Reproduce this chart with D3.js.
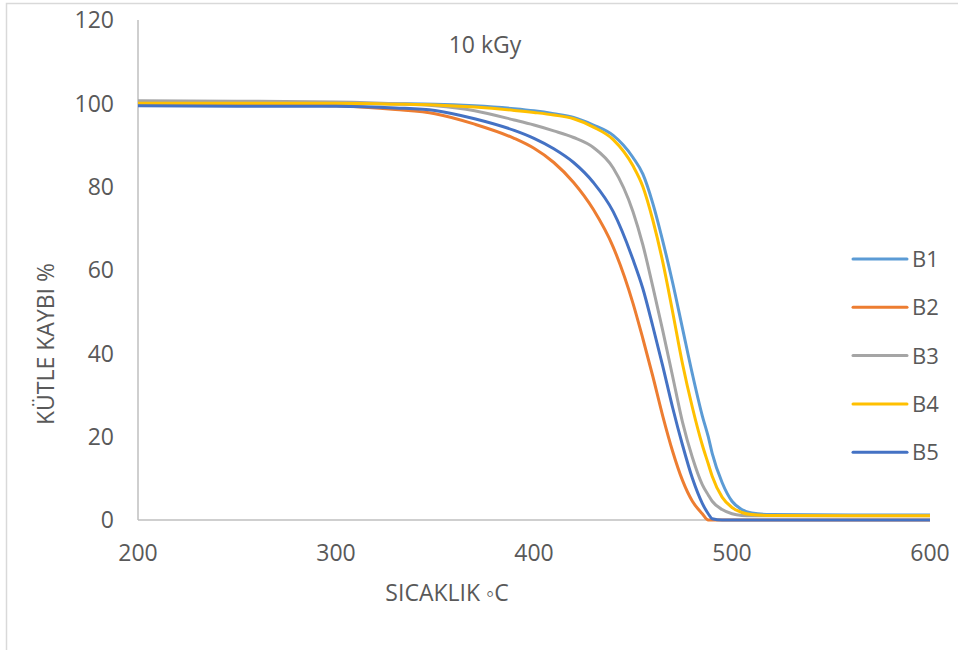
<html>
<head>
<script src="https://d3js.org/d3.v7.min.js"></script>
<style>
  body { margin: 0; background: #fff; }
  text { font-family: "Open Sans", "Liberation Sans", sans-serif; fill: #595959; }
</style>
</head>
<body>
<svg id="chart" width="958" height="650"></svg>
<script>
// temperatures (°C) shared by all series
const temps = [200, 250, 300, 330, 350, 370, 390, 400, 410, 420, 430, 440, 450, 455, 460, 465, 470, 475, 480, 485, 488, 490, 495, 500, 505, 510, 520, 560, 600];

// mass values (%)
const b1 = [100, 100, 100, 99.9, 99.8, 99.4, 98.7, 98.2, 97.5, 96.6, 94.8, 92.3, 87, 83, 76, 67, 57, 46, 35, 25, 20, 16, 9, 4.5, 2.5, 1.7, 1.3, 1.2, 1.2];
const b2 = [100, 99.8, 99.4, 98.5, 97.5, 95, 91.6, 89.2, 85.8, 81, 74.5, 65.5, 52, 43.5, 34.5, 25, 16.5, 9.5, 4.5, 1.5, 0, 0, 0, 0, 0, 0, 0, 0, 0];
const b3 = [100.6, 100.5, 100.3, 99.9, 99.4, 98.2, 96, 94.8, 93.4, 91.8, 89.4, 84.5, 74, 66, 56, 45.5, 34.5, 23.5, 15, 8.5, 6, 4.5, 2.5, 1.5, 1.1, 1, 1, 1, 1];
const b4 = [100, 100, 100, 99.8, 99.6, 99.1, 98.3, 97.8, 97.2, 96.3, 94.3, 91.3, 85, 80, 72, 62, 50, 37.5, 27, 18, 13.5, 10.5, 5.5, 3, 1.8, 1.3, 1.1, 1, 1];
const b5 = [99.4, 99.3, 99.3, 98.9, 98.3, 96.3, 93.5, 91.6, 89.1, 85.8, 81, 74, 62.5, 55.5, 46.5, 37, 27, 18, 10, 4, 1.5, 0.3, 0, 0, 0, 0, 0, 0, 0];

const names = ['B1', 'B2', 'B3', 'B4', 'B5'];
const colors = ['#5B9BD5', '#ED7D31', '#A5A5A5', '#FFC000', '#4472C4'];
const xTicks = [200, 300, 400, 500, 600];
const yTicks = [0, 20, 40, 60, 80, 100, 120];

const series = [b1, b2, b3, b4, b5];

const svg = d3.select('svg#chart');

// outer chart border
svg.append('rect')
  .attr('x', 6.5).attr('y', 3.5)
  .attr('width', 960).attr('height', 660)
  .attr('fill', 'none')
  .attr('stroke', '#D9D9D9')
  .attr('stroke-width', 1.5);

const xScale = d3.scaleLinear().domain([200, 600]).range([138, 930]);
const yScale = d3.scaleLinear().domain([0, 120]).range([520, 20]);

// axis lines
svg.append('line')
  .attr('x1', xScale(200)).attr('x2', xScale(200))
  .attr('y1', yScale(120)).attr('y2', yScale(0))
  .attr('stroke', '#BFBFBF').attr('stroke-width', 1.5);
svg.append('line')
  .attr('x1', xScale(200)).attr('x2', xScale(600))
  .attr('y1', yScale(0)).attr('y2', yScale(0))
  .attr('stroke', '#BFBFBF').attr('stroke-width', 1.5);

// tick labels
svg.selectAll('text.ytick').data(yTicks).join('text')
  .attr('class', 'ytick')
  .attr('x', 114)
  .attr('y', d => yScale(d))
  .attr('dy', '0.36em')
  .attr('text-anchor', 'end')
  .attr('font-size', 23)
  .text(d => d);

svg.selectAll('text.xtick').data(xTicks).join('text')
  .attr('class', 'xtick')
  .attr('x', d => xScale(d))
  .attr('y', 553)
  .attr('dy', '0.36em')
  .attr('text-anchor', 'middle')
  .attr('font-size', 23)
  .text(d => d);

// titles
svg.append('text')
  .attr('x', 485).attr('y', 45).attr('dy', '0.36em')
  .attr('text-anchor', 'middle')
  .attr('font-size', 23)
  .text('10 kGy');

svg.append('text')
  .attr('x', 447).attr('y', 593).attr('dy', '0.36em')
  .attr('text-anchor', 'middle')
  .attr('font-size', 23)
  .text('SICAKLIK ◦C');

svg.append('text')
  .attr('transform', 'translate(46,344) rotate(-90)')
  .attr('dy', '0.36em')
  .attr('text-anchor', 'middle')
  .attr('font-size', 23)
  .text('KÜTLE KAYBI %');

// lines
const line = d3.line()
  .x((d, i) => xScale(temps[i]))
  .y(d => yScale(d))
  .curve(d3.curveMonotoneX);

series.forEach((s, i) => {
  svg.append('path')
    .attr('d', line(s))
    .attr('fill', 'none')
    .attr('stroke', colors[i])
    .attr('stroke-width', 3)
    .attr('stroke-linejoin', 'round');
});

// legend
const legend = svg.selectAll('g.legend').data(names).join('g')
  .attr('class', 'legend')
  .attr('transform', (d, i) => `translate(853, ${259 + i * 48.3})`);
legend.append('line')
  .attr('x1', 0).attr('x2', 54)
  .attr('stroke', (d, i) => colors[i])
  .attr('stroke-width', 3)
  .attr('stroke-linecap', 'round');
legend.append('text')
  .attr('x', 59).attr('dy', '0.36em')
  .attr('font-size', 22)
  .text(d => d);
</script>
</body>
</html>
